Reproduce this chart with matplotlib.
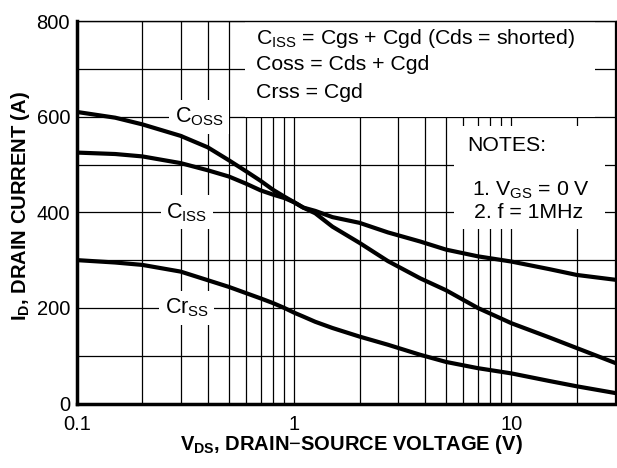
import matplotlib
matplotlib.use('Agg')
import matplotlib.pyplot as plt
from matplotlib.patches import Rectangle
from matplotlib.ticker import FixedLocator, NullFormatter

plt.rcParams['font.family'] = ['Liberation Sans', 'DejaVu Sans']
plt.rcParams['mathtext.fontset'] = 'custom'
plt.rcParams['mathtext.rm'] = 'Liberation Sans'
plt.rcParams['mathtext.it'] = 'Liberation Sans'
plt.rcParams['mathtext.bf'] = 'Liberation Sans:bold'

# values
v_ds = [0.1, 0.15, 0.2, 0.3, 0.4, 0.5, 0.6, 0.7, 0.8, 0.9, 1.0, 1.1, 1.25, 1.5,
        2.0, 2.7, 3.8, 5.0, 7.0, 10, 15, 20, 30]
c_oss = [610, 598, 584, 560, 536, 509, 486, 466, 447, 433, 421, 410, 398, 370,
         336, 298, 262, 237, 200, 168, 138, 116, 85]
c_iss = [525, 522, 517, 503, 488, 475, 460, 446, 437, 430, 421, 410, 403, 390,
         378, 358, 339, 322, 308, 297, 281, 269, 259]
c_rss = [300, 295, 290, 276, 258, 244, 231, 220, 210, 200, 190, 182, 171, 158,
         140, 123, 102, 87, 74, 63, 47, 36, 22]

y_ticks = [0, 200, 400, 600, 800]
x_ticks = [0.1, 1, 10]
x_tick_labels = ['0.1', '1', '10']
minor_x = [0.2, 0.3, 0.4, 0.5, 0.6, 0.7, 0.8, 0.9, 2, 3, 4, 5, 6, 7, 8, 9, 20, 30]
minor_y = [100, 300, 500, 700]

fig = plt.figure(figsize=(6.17, 4.68), dpi=100)
ax = fig.add_axes([0.1248, 0.1378, 0.873, 0.817])

ax.set_xscale('log')
ax.set_xlim(0.1, 30.2)
ax.set_ylim(0, 800)

ax.set_xticks(x_ticks)
ax.set_xticklabels(x_tick_labels)
ax.xaxis.set_minor_locator(FixedLocator(minor_x))
ax.xaxis.set_minor_formatter(NullFormatter())
ax.set_yticks(y_ticks)
ax.yaxis.set_minor_locator(FixedLocator(minor_y))

ax.grid(True, which='both', color='black', linewidth=0.9, zorder=1)
ax.set_axisbelow(True)
ax.tick_params(which='both', direction='in', length=0, labelsize=14.5)
ax.tick_params(axis='y', pad=5)
ax.tick_params(axis='x', which='both', top=True, bottom=False, length=3, pad=8)

for side in ['left', 'bottom']:
    ax.spines[side].set_linewidth(2.5)
for side in ['top', 'right']:
    ax.spines[side].set_linewidth(1.0)

# white boxes over the grid for the notes
ax.add_patch(Rectangle((0.312, 0.749), 0.650, 0.251, transform=ax.transAxes,
                       facecolor='white', edgecolor='none', zorder=2))
ax.add_patch(Rectangle((0.700, 0.456), 0.280, 0.270, transform=ax.transAxes,
                       facecolor='white', edgecolor='none', zorder=2))

ax.plot(v_ds, c_oss, color='black', linewidth=3, zorder=4)
ax.plot(v_ds, c_iss, color='black', linewidth=3, zorder=4)
ax.plot(v_ds, c_rss, color='black', linewidth=3, zorder=4)

box = dict(facecolor='white', edgecolor='none', pad=4)
ax.text(0.365, 600, r'C$_{\mathrm{OSS}}$', fontsize=15.5, ha='center', va='center',
        bbox=box, zorder=3)
ax.text(0.32, 400, r'C$_{\mathrm{ISS}}$', fontsize=15.5, ha='center', va='center',
        bbox=box, zorder=3)
ax.text(0.32, 200, r'Cr$_{\mathrm{SS}}$', fontsize=15.5, ha='center', va='center',
        bbox=box, zorder=3)

note_fs = 15.3
ax.text(0.333, 0.955, r'C$_{\mathrm{ISS}}$ = Cgs + Cgd (Cds = shorted)', transform=ax.transAxes,
        fontsize=note_fs, ha='left', va='center', zorder=3)
ax.text(0.333, 0.887, 'Coss = Cds + Cgd', transform=ax.transAxes,
        fontsize=note_fs, ha='left', va='center', zorder=3)
ax.text(0.333, 0.814, 'Crss = Cgd', transform=ax.transAxes,
        fontsize=note_fs, ha='left', va='center', zorder=3)

ax.text(0.724, 0.676, 'NOTES:', transform=ax.transAxes,
        fontsize=note_fs, ha='left', va='center', zorder=3)
ax.text(0.733, 0.558, r'1. V$_{\mathrm{GS}}$ = 0 V', transform=ax.transAxes,
        fontsize=note_fs, ha='left', va='center', zorder=3)
ax.text(0.737, 0.500, '2. f = 1MHz', transform=ax.transAxes,
        fontsize=note_fs, ha='left', va='center', zorder=3)

ax.set_xlabel(r'V$_{\mathbf{DS}}$, DRAIN$-$SOURCE VOLTAGE (V)', fontsize=14.5,
              fontweight='bold')
ax.set_ylabel(r'I$_{\mathbf{D}}$, DRAIN CURRENT (A)', fontsize=14.5,
              fontweight='bold')
ax.xaxis.set_label_coords(0.509, -0.077)
ax.yaxis.set_label_coords(-0.084, 0.516)

fig.savefig('out.png', dpi=100)
